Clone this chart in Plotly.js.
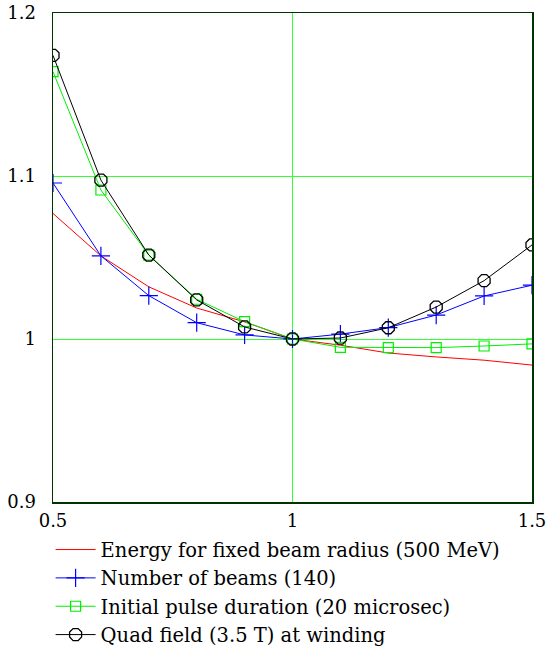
<!DOCTYPE html>
<html>
<head>
<meta charset="utf-8">
<script src="https://cdn.plot.ly/plotly-3.0.1.min.js"></script>
<style>html,body{margin:0;padding:0;background:#fff;}#chart{width:552px;height:656px;}</style>
</head>
<body>
<div id="chart"></div>
<script>
const xValues = [0.5, 0.6, 0.7, 0.8, 0.9, 1.0, 1.1, 1.2, 1.3, 1.4, 1.5];
const energyValues = [1.077, 1.051, 1.032, 1.019, 1.0105, 1.0, 0.9962, 0.9914, 0.989, 0.987, 0.984];
const beamsValues = [1.0957, 1.051, 1.0266, 1.010, 1.0025, 1.0, 1.003, 1.007, 1.0147, 1.0264, 1.033];
const pulseValues = [1.164, 1.0914, 1.0515, 1.0244, 1.0106, 1.0, 0.9949, 0.9947, 0.9947, 0.9957, 0.997];
const quadValues = [1.174, 1.0975, 1.0515, 1.024, 1.0074, 1.0, 1.0006, 1.0069, 1.0196, 1.0358, 1.0577];
const seriesNames = [
  "Energy for fixed beam radius (500 MeV)",
  "Number of beams (140)",
  "Initial pulse duration (20 microsec)",
  "Quad field (3.5 T) at winding"
];
const xTickVals = [0.5, 1, 1.5];
const xTickText = ["0.5", "1", "1.5"];
const yTickVals = [0.9, 1.0, 1.1, 1.2];
const yTickText = ["0.9", "1", "1.1", "1.2"];

const serif = "DejaVu Serif";
const traces = [
  {x: xValues, y: energyValues, name: seriesNames[0], mode: "lines",
   line: {color: "#ff0000", width: 1}},
  {x: xValues, y: beamsValues, name: seriesNames[1], mode: "lines+markers",
   line: {color: "#0000ff", width: 1},
   marker: {symbol: "cross-thin-open", size: 13, line: {color: "#0000ff", width: 1.2}}},
  {x: xValues, y: pulseValues, name: seriesNames[2], mode: "lines+markers",
   line: {color: "#00ee00", width: 1},
   marker: {symbol: "square-open", size: 10, color: "#00ee00", line: {color: "#00ee00", width: 1.2}}},
  {x: xValues, y: quadValues, name: seriesNames[3], mode: "lines+markers",
   line: {color: "#000000", width: 1},
   marker: {symbol: "octagon-open", size: 13, color: "#000000", line: {color: "#000000", width: 1.3}}}
];

const axisColor = "#003300";
const layout = {
  width: 552, height: 656,
  margin: {l: 53, r: 20, t: 13, b: 154, autoexpand: false},
  paper_bgcolor: "#ffffff", plot_bgcolor: "#ffffff",
  font: {family: serif, size: 18, color: "#000"},
  showlegend: true,
  legend: {x: -0.005, y: -0.058, xanchor: "left", yanchor: "top",
    font: {family: serif, size: 19.5, color: "#000"},
    bgcolor: "rgba(0,0,0,0)", tracegroupgap: 0, itemwidth: 40},
  xaxis: {range: [0.5, 1.5], tickvals: xTickVals, ticktext: xTickText,
    showgrid: true, gridcolor: "#33ff33", gridwidth: 1,
    showline: true, linecolor: axisColor, linewidth: 1.5, mirror: true,
    zeroline: false, ticks: "", ticklabelstandoff: 2,
    tickfont: {family: serif, size: 18}},
  yaxis: {range: [0.9, 1.2], tickvals: yTickVals, ticktext: yTickText,
    showgrid: true, gridcolor: "#33ff33", gridwidth: 1,
    showline: true, linecolor: axisColor, linewidth: 1.5, mirror: true,
    zeroline: false, ticks: "", ticklabelstandoff: 12,
    tickfont: {family: serif, size: 18}}
};

Plotly.newPlot("chart", traces, layout, {displayModeBar: false, staticPlot: true});
</script>
</body>
</html>
